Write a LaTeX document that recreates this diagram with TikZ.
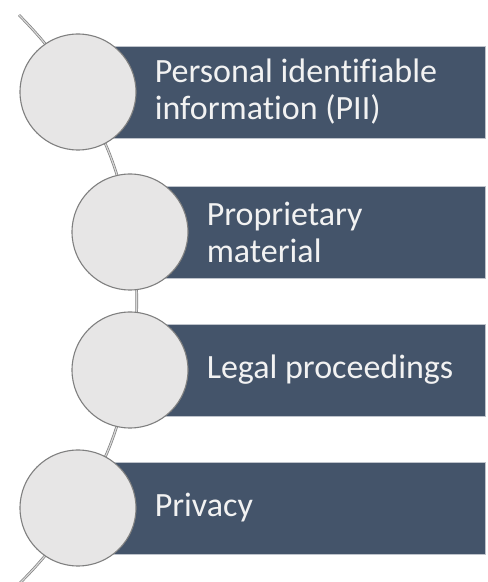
\documentclass[tikz,border=0pt]{standalone}
\usepackage{fontspec}
\setmainfont{Carlito}[Ligatures=NoCommon]
\usetikzlibrary{positioning,backgrounds}
\definecolor{slate}{HTML}{44546A}
\definecolor{disc}{HTML}{E7E6E6}
\definecolor{rim}{HTML}{7F7F7F}
\definecolor{pale}{HTML}{F2F2F2}
\begin{document}
\begin{tikzpicture}[x=1pt, y=1pt,
    dot/.style={circle, fill=disc, draw=rim, line width=1.1pt, minimum size=116pt, inner sep=0pt},
    band/.style={rectangle, fill=slate, draw=slate!35!white, line width=0.6pt, minimum height=92pt, anchor=west, inner sep=0pt},
    item/.style={text=pale, font=\fontsize{34}{37}\selectfont, align=left, inner sep=0pt, anchor=west},
    spine/.style={draw=rim, line width=0.7pt, double=disc!85!rim, double distance=1.2pt}
]
\useasboundingbox (0,0) rectangle (488,582);

% Circles along the arc
\node[dot] (c1) at (78,490) {};
\node[dot] (c2) at (130,350) {};
\node[dot] (c3) at (130,212) {};
\node[dot] (c4) at (78,74) {};

% Labels
\node[item, right=18pt of c1] (t1) {Personal identifiable\\information (PII)};
\node[item, right=18pt of c2] (t2) {Proprietary\\material};
\node[item, right=18pt of c3] (t3) {Legal proceedings};
\node[item, right=18pt of c4] (t4) {Privacy};

\coordinate (top) at (19,567);
\coordinate (bottom) at (18,-3);

\begin{pgfonlayer}{background}
% Arc through the circles
\draw[spine] (top) to[bend left=6.9] (c1.center) to[bend left=10.6] (c2.center)
    to[bend left=9.7] (c3.center) to[bend left=10.6] (c4.center) to[bend left=7] (bottom);

% Bands
\node[band, minimum width=407pt] (b1) at (c1.center) {};
\node[band, minimum width=355pt] (b2) at (c2.center) {};
\node[band, minimum width=355pt] (b3) at (c3.center) {};
\node[band, minimum width=407pt] (b4) at (c4.center) {};
\end{pgfonlayer}

\end{tikzpicture}
\end{document}
